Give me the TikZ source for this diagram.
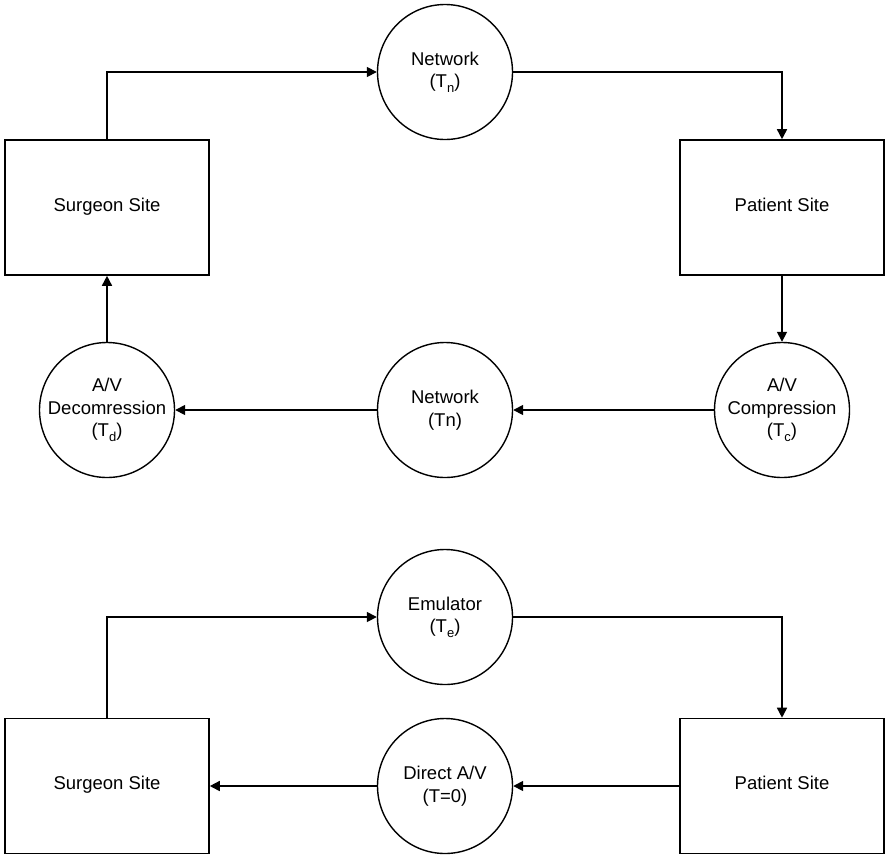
\documentclass[tikz,border=0pt]{standalone}
\usepackage{fontspec}
\setmainfont{Liberation Sans}
\usetikzlibrary{arrows.meta}
\newcommand{\lowsub}[1]{\raisebox{-0.45ex}{\fontsize{13}{13}\selectfont #1}}
\begin{document}
\begin{tikzpicture}[x=1pt,y=-1pt,
  every node/.style={font=\fontsize{18.5}{22.5}\selectfont, align=center, inner sep=0pt},
  sitebox/.style={draw, line width=1.6pt, minimum width=204pt, minimum height=135pt, text height=0.8em, text depth=0.08em},
  stage/.style={draw, circle, line width=1.4pt, minimum size=135pt},
  flow/.style={line width=1.6pt, -{Triangle[length=10pt,width=10pt]}}]
\useasboundingbox (0,0) rectangle (885,857);
% top diagram
\node[sitebox] (ss1) at (107,207.5) {Surgeon Site};
\node[sitebox] (ps1) at (782,207.5) {Patient Site};
\node[stage] (net1) at (445,72) {Network\\(T\lowsub{n})};
\node[stage] (comp) at (782,410) {A/V\\Compression\\(T\lowsub{c})};
\node[stage] (net2) at (445,410) {Network\\(Tn)};
\node[stage] (dec) at (107,410) {A/V\\Decomression\\(T\lowsub{d})};
\draw[flow] (ss1.north) |- (net1.west);
\draw[flow] (net1.east) -| (ps1.north);
\draw[flow] (ps1.south) -- (comp.north);
\draw[flow] (comp.west) -- (net2.east);
\draw[flow] (net2.west) -- (dec.east);
\draw[flow] (dec.north) -- (ss1.south);
% bottom diagram
\node[sitebox] (ss2) at (107,786) {Surgeon Site};
\node[sitebox] (ps2) at (782,786) {Patient Site};
\node[stage] (emu) at (445,617) {Emulator\\(T\lowsub{e})};
\node[stage] (dir) at (445,786) {Direct A/V\\(T=0)};
\draw[flow] (ss2.north) |- (emu.west);
\draw[flow] (emu.east) -| (ps2.north);
\draw[flow] (ps2.west) -- (dir.east);
\draw[flow] (dir.west) -- (ss2.east);
\end{tikzpicture}
\end{document}
